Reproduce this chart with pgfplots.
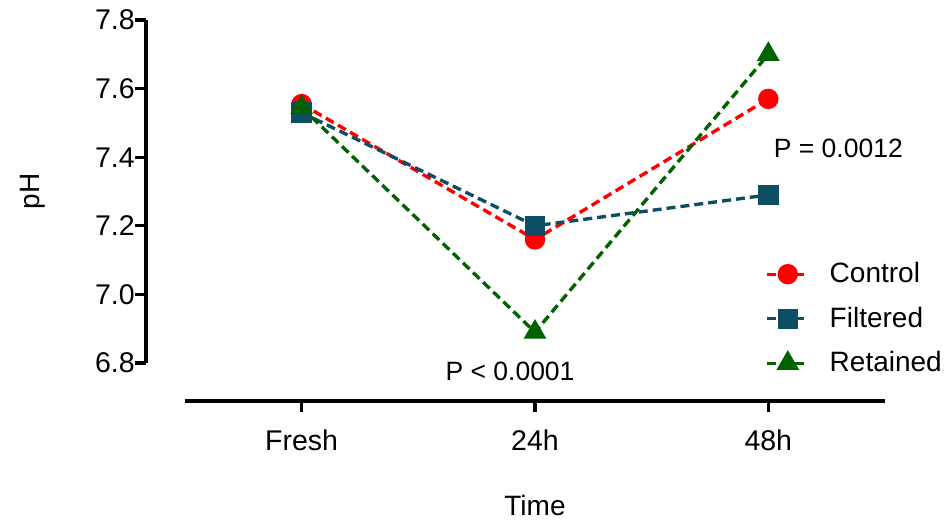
\documentclass[border=0pt]{standalone}
\usepackage{fontspec}
\setmainfont{Liberation Sans}
\usepackage{pgfplots}
\pgfplotsset{compat=1.18}

\definecolor{ctrl}{RGB}{255,0,0}
\definecolor{filt}{RGB}{14,78,100}
\definecolor{ret}{RGB}{0,98,0}

\tikzset{dashline/.style={line width=1.35pt, dash pattern=on 3.6pt off 2pt}}
\pgfplotsset{
  prismlegend/.style={legend image code/.code={
    \draw[dashline] (0pt,0pt) -- (16.8pt,0pt);
    \draw[solid] plot coordinates {(8.4pt,0pt)};
    \path (22.5pt,0pt);}},
}

\begin{document}
\begin{tikzpicture}
\begin{axis}[
  scale only axis,
  width=280pt, height=137.2pt,
  xmin=-0.5, xmax=2.5, ymin=6.8, ymax=7.8,
  axis x line*=bottom, axis y line*=left,
  axis x line shift=15.2pt, axis y line shift=15.6pt,
  axis line style={-, line width=1.3pt},
  xtick={0,1,2}, xticklabels={Fresh,24h,48h},
  ytick={6.8,7.0,...,7.8},
  tick style={line width=1.3pt, black},
  tick align=outside, major tick length=4.5pt,
  yticklabel style={/pgf/number format/fixed, /pgf/number format/fixed zerofill,
                    /pgf/number format/precision=1, xshift=3.5pt},
  xticklabel style={yshift=-3.5pt},
  /pgf/number format/assume math mode=true,
  font=\fontsize{11.2}{13}\selectfont,
  tick label style={font=\fontsize{11.4}{13}\selectfont},
  xlabel={Time}, ylabel={pH},
  xlabel style={yshift=-11pt},
  ylabel style={yshift=13pt},
  clip=false,
  legend style={draw=none, fill=none, at={(0.828,0.31)}, anchor=north west,
                font=\fontsize{11.2}{13}\selectfont, row sep=4.2pt,
                legend cell align=left, inner sep=0pt},
  prismlegend,
]
\addplot[dashline, ctrl, mark=*, mark size=3.4pt, mark options={solid, fill=ctrl}]
  coordinates {(0,7.555)(1,7.16)(2,7.57)};
\addplot[dashline, filt, mark=square*, mark size=3.4pt, mark options={solid, fill=filt}]
  coordinates {(0,7.53)(1,7.20)(2,7.29)};
\addplot[dashline, ret, mark=triangle*, mark size=3.9pt, mark options={solid, fill=ret}]
  coordinates {(0,7.545)(1,6.89)(2,7.70)};
\legend{Control, Filtered, Retained}
\node[font=\fontsize{10.6}{12}\selectfont] at (axis cs:0.893,6.775) {P < 0.0001};
\node[font=\fontsize{10.6}{12}\selectfont] at (axis cs:2.30,7.427) {P = 0.0012};
\coordinate (ll) at (rel axis cs:0,0);
\end{axis}
\pgfresetboundingbox
\path (ll) ++(-74pt,-64.4pt) rectangle ++(380pt,209.6pt);
\end{tikzpicture}
\end{document}
